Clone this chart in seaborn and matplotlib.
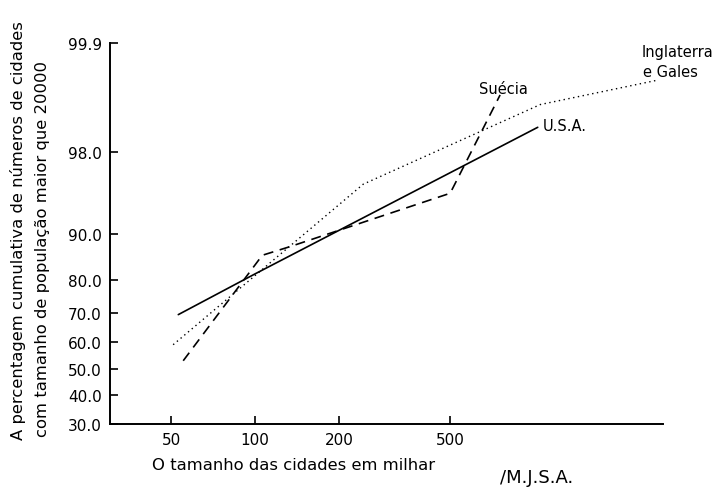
import numpy as np
import matplotlib
matplotlib.use('Agg')
import matplotlib.pyplot as plt
import seaborn as sns
from statistics import NormalDist

# Data: city size in thousands, cumulative percentage
usa_x = [53, 100, 1030]
usa_y = [69.6, 81.6, 98.9]

ing_x = [50.8, 244, 1052, 2760]
ing_y = [59.0, 96.0, 99.39, 99.69]

sue_x = [55.2, 106, 134, 500, 755]
sue_y = [53.0, 85.9, 87.7, 95.2, 99.53]

x_ticks = [50, 100, 200, 500]
y_ticks = [30.0, 40.0, 50.0, 60.0, 70.0, 80.0, 90.0, 98.0, 99.9]

# probability (probit) scale for the y axis
_nd = NormalDist()
_ppf = np.vectorize(_nd.inv_cdf, otypes=[float])
_cdf = np.vectorize(_nd.cdf, otypes=[float])


def probit(p):
    p = np.clip(np.asarray(p, dtype=float) / 100.0, 1e-9, 1 - 1e-9)
    return _ppf(p)


def inv_probit(z):
    return _cdf(np.asarray(z, dtype=float)) * 100.0


sns.set_style('ticks')
plt.rcParams['font.family'] = ['DejaVu Sans']
plt.rcParams['text.color'] = 'black'

fig = plt.figure(figsize=(7.2, 4.89), dpi=100)
ax = fig.add_axes([0.153, 0.131, 0.768, 0.779])

sns.lineplot(x=usa_x, y=usa_y, ax=ax, color='black', linewidth=1.2)
sns.lineplot(x=ing_x, y=ing_y, ax=ax, color='black', linewidth=1.0,
             linestyle=(0, (1, 2.5)))
sns.lineplot(x=sue_x, y=sue_y, ax=ax, color='black', linewidth=1.2,
             linestyle=(0, (6, 4)))

ax.set_xscale('log')
ax.set_yscale('function', functions=(probit, inv_probit))
ax.set_xlim(30.2, 2900)
ax.set_ylim(30.0, 99.9)
ax.minorticks_off()

ax.set_xticks(x_ticks)
ax.set_xticklabels([str(v) for v in x_ticks], fontsize=11)
ax.set_yticks(y_ticks)
ax.set_yticklabels([f'{v:.1f}' for v in y_ticks], fontsize=11)
ax.tick_params(direction='in', length=6, width=1.2, pad=6, colors='black')

sns.despine(ax=ax)
for s in ['left', 'bottom']:
    ax.spines[s].set_linewidth(1.4)
    ax.spines[s].set_color('black')

# series labels
ax.text(774, 99.61, 'Suécia', fontsize=10.5, ha='center', va='center')
ax.text(1070, 98.95, 'U.S.A.', fontsize=10.5, ha='left', va='center')
ax.text(2420, 99.871, 'Inglaterra', fontsize=10.5, ha='left', va='center')
ax.text(2450, 99.763, 'e Gales', fontsize=10.5, ha='left', va='center')

# axis titles
fig.text(18 / 720, 1 - 440 / 489,
         'A percentagem cumulativa de números de cidades',
         rotation=90, rotation_mode='anchor', ha='left', va='center',
         fontsize=11.8)
fig.text(42 / 720, 1 - 437 / 489,
         'com tamanho de população maior que 20000',
         rotation=90, rotation_mode='anchor', ha='left', va='center',
         fontsize=11.8)
fig.text(152 / 720, 1 - 466 / 489, 'O tamanho das cidades em milhar',
         ha='left', va='center', fontsize=11.8)
fig.text(500 / 720, 1 - 478 / 489, '/M.J.S.A.', ha='left', va='center',
         fontsize=13)

fig.savefig('out.png', dpi=100)
